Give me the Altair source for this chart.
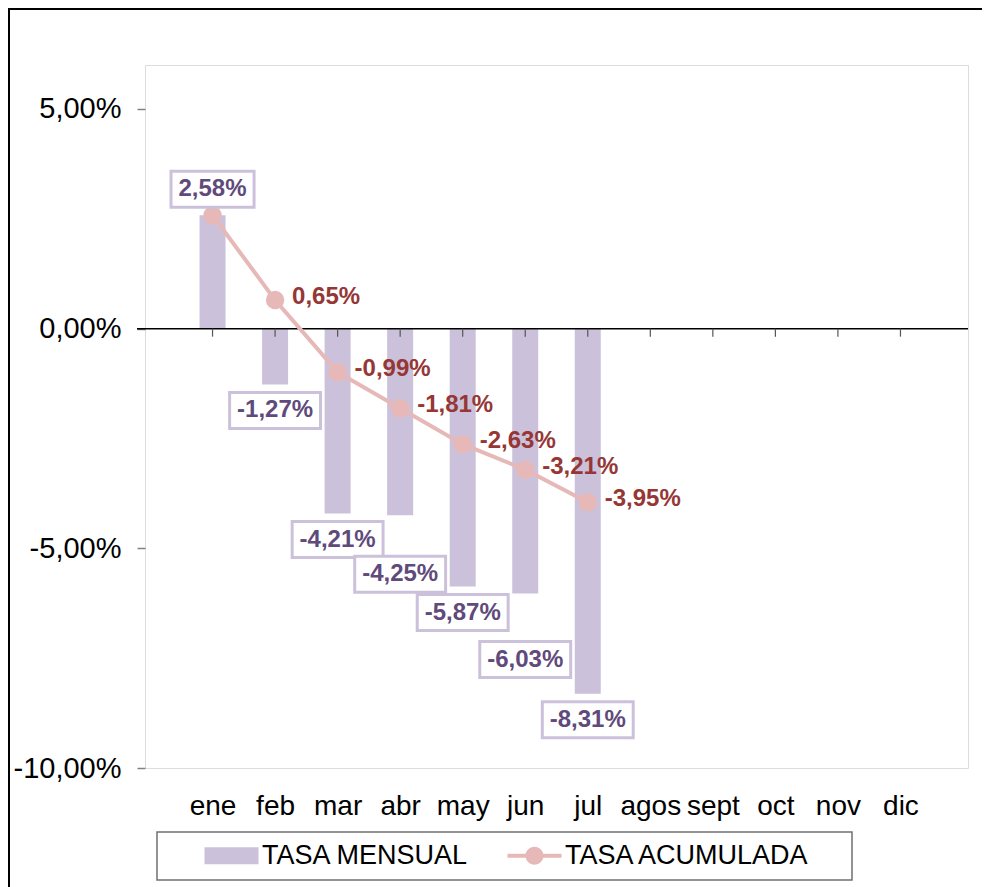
import altair as alt
import pandas as pd

# ---------------- data ----------------
months = ["ene", "feb", "mar", "abr", "may", "jun", "jul", "agos", "sept", "oct", "nov", "dic"]
mensual = [2.58, -1.27, -4.21, -4.25, -5.87, -6.03, -8.31]
acumulada = [2.58, 0.65, -0.99, -1.81, -2.63, -3.21, -3.95]
series_names = ["TASA MENSUAL", "TASA ACUMULADA"]

# ---------------- layout / style constants ----------------
W, H = 823, 703
Y_MIN, Y_MAX = -10, 6
X_MIN, X_MAX = -1, 12
PX_Y = H / (Y_MAX - Y_MIN)          # px per y unit
PX_X = W / (X_MAX - X_MIN)          # px per x unit
FONT = "Liberation Sans"
BAR_COLOR = "#CCC1DA"
LINE_COLOR = "#E6B9B8"
BAR_TEXT = "#604A7B"
LINE_TEXT = "#953735"
LABEL_GAP = 26                       # px between bar end and label box centre
EXTRA_SHIFT = {"abr": 33, "jun": 40}  # labels pushed down to avoid overlap
BOX_H = 36
LBL_SIZE = 24

def fmt(v):
    return f"{v:.2f}".replace(".", ",") + "%"

CHAR_W = {",": 0.278, "-": 0.333, "%": 0.889}

def text_w(s):
    return sum(CHAR_W.get(c, 0.556) for c in s) * LBL_SIZE

rows = []
for i, v in enumerate(mensual):
    t = fmt(v)
    off = LABEL_GAP + EXTRA_SHIFT.get(months[i], 0)
    ly = v + off / PX_Y if v > 0 else v - off / PX_Y
    hw = (text_w(t) + 16) / 2 / PX_X
    hh = BOX_H / 2 / PX_Y
    rows.append(dict(idx=i, mes=months[i], v=v, serie=series_names[0], txt=t,
                     ly=ly, bx1=i - hw, bx2=i + hw, by1=ly - hh, by2=ly + hh))
bars_df = pd.DataFrame(rows)

line_df = pd.DataFrame(dict(idx=list(range(len(acumulada))), v=acumulada,
                            serie=series_names[1], txt=[fmt(a) for a in acumulada]))
line_lbl_df = line_df.iloc[1:]

ticks_df = pd.DataFrame(dict(idx=list(range(len(months)))))

x_scale = alt.Scale(domain=[X_MIN, X_MAX], nice=False, zero=False)
y_scale = alt.Scale(domain=[Y_MIN, Y_MAX], nice=False)
color_scale = alt.Scale(domain=series_names, range=[BAR_COLOR, LINE_COLOR])

month_expr = "[" + ",".join(f"'{m}'" for m in months) + "][datum.value]"

x_enc = alt.X("idx:Q", scale=x_scale,
              axis=alt.Axis(values=list(range(len(months))), labelExpr=month_expr,
                            title=None, grid=False, domain=False, ticks=False,
                            labelFont=FONT, labelFontSize=28, labelColor="black",
                            labelPadding=24, labelFlush=False, labelOverlap=False))
y_enc = alt.Y("v:Q", scale=y_scale,
              axis=alt.Axis(values=[-10, -5, 0, 5], title=None, grid=False, domain=False,
                            tickSize=8, tickColor="#808080", tickWidth=1.5,
                            labelExpr="(datum.value < 0 ? '-' : '') + replace(format(abs(datum.value), '.2f'), '.', ',') + '%'",
                            labelFont=FONT, labelFontSize=29, labelColor="black",
                            labelPadding=16))

BAR_PATH = "M-3,-0.95H3V0.95H-3Z"
LINE_PATH = "M-3,-0.22H3V0.22H-3ZM-1,0A1,1 0 1,1 1,0A1,1 0 1,1 -1,0Z"

legend = alt.Legend(
    title=None, orient="none", legendX=73, legendY=777, direction="horizontal",
    labelFont=FONT, labelFontSize=27, labelColor="black", labelLimit=0, symbolSize=324,
    labelOffset=17, columnPadding=38, padding=0,
    symbolStrokeWidth=0, symbolOpacity=1,
    symbolType=alt.ExprRef(expr=f"datum.value === '{series_names[0]}' ? '{BAR_PATH}' : '{LINE_PATH}'"),
)
color_enc = alt.Color("serie:N", scale=color_scale, legend=legend)

bars = alt.Chart(bars_df).mark_bar(size=26).encode(x=x_enc, y=y_enc, color=color_enc)

zero = alt.Chart(ticks_df.iloc[:1]).mark_rule(color="black", strokeWidth=1.5).encode(
    y=alt.datum(0, scale=y_scale), x=alt.value(-8), x2=alt.value(W))

xticks = alt.Chart(ticks_df).mark_rule(color="#555555", strokeWidth=1.2).encode(
    x=alt.X("idx:Q", scale=x_scale),
    y=alt.datum(0, scale=y_scale), y2=alt.datum(-8 / PX_Y))

line = alt.Chart(line_df).mark_line(strokeWidth=4).encode(
    x=alt.X("idx:Q", scale=x_scale), y=alt.Y("v:Q", scale=y_scale), color=color_enc)
points = alt.Chart(line_df).mark_point(filled=True, size=340, opacity=1).encode(
    x=alt.X("idx:Q", scale=x_scale), y=alt.Y("v:Q", scale=y_scale), color=color_enc)

boxes = alt.Chart(bars_df).mark_rect(fill="white", stroke=BAR_COLOR, strokeWidth=3).encode(
    x=alt.X("bx1:Q", scale=x_scale), x2="bx2:Q",
    y=alt.Y("by1:Q", scale=y_scale), y2="by2:Q")
bar_txt = alt.Chart(bars_df).mark_text(font=FONT, fontSize=LBL_SIZE, fontWeight="bold",
                                       color=BAR_TEXT, baseline="middle", align="center").encode(
    x=alt.X("idx:Q", scale=x_scale), y=alt.Y("ly:Q", scale=y_scale), text="txt:N")

line_txt = alt.Chart(line_lbl_df).mark_text(font=FONT, fontSize=LBL_SIZE, fontWeight="bold",
                                            color=LINE_TEXT, baseline="middle", align="left",
                                            dx=17, dy=-3).encode(
    x=alt.X("idx:Q", scale=x_scale), y=alt.Y("v:Q", scale=y_scale), text="txt:N")

one = ticks_df.iloc[:1]
frame = alt.Chart(one).mark_rect(fillOpacity=0, stroke="black", strokeWidth=2).encode(
    x=alt.value(-136), x2=alt.value(W + 60), y=alt.value(-56), y2=alt.value(H + 200))
legend_box = alt.Chart(one).mark_rect(fill="white", stroke="#707070", strokeWidth=1.5).encode(
    x=alt.value(12), x2=alt.value(707), y=alt.value(767), y2=alt.value(815))

chart = alt.layer(frame, legend_box, bars, zero, xticks, line, points, boxes, bar_txt, line_txt).properties(
    width=W, height=H,
    autosize=alt.AutoSizeParams(type="none"),
    padding={"left": 137, "top": 57, "right": 14, "bottom": 119},
).configure_view(stroke="#808080", strokeWidth=1.5).configure(font=FONT, background="white")

chart.save("out.html", embed_options={"renderer": "svg", "actions": False})
